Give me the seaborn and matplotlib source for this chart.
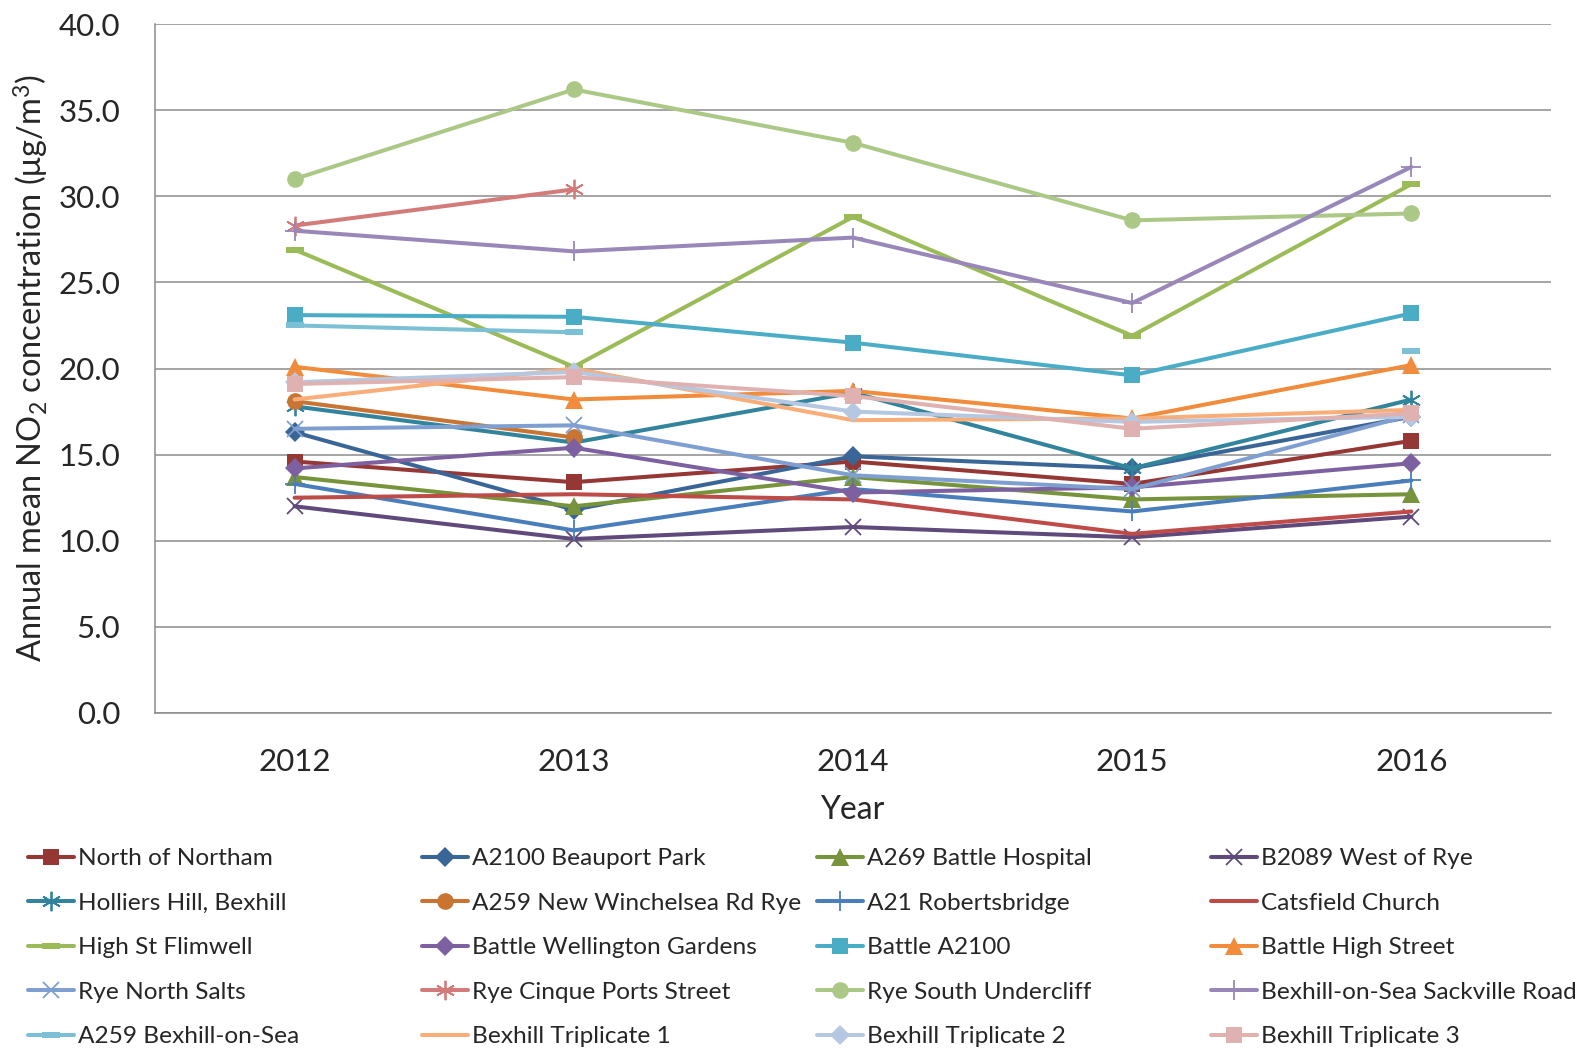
import numpy as np
import pandas as pd
import matplotlib
matplotlib.use("Agg")
import matplotlib.pyplot as plt
from matplotlib.lines import Line2D
from matplotlib.ticker import FormatStrFormatter
import seaborn as sns

# datos (NaN = sin medicion)
years = ["2012", "2013", "2014", "2015", "2016"]
nan = np.nan

north_of_northam = [14.6, 13.4, 14.6, 13.3, 15.8]
a2100_beauport = [16.3, 11.8, 14.9, 14.2, 17.2]
a269_battle_hospital = [13.7, 12.0, 13.7, 12.4, 12.7]
b2089_west_of_rye = [12.0, 10.1, 10.8, 10.2, 11.4]
holliers_hill = [17.8, 15.7, 18.6, 14.2, 18.2]
a259_new_winchelsea = [18.1, 16.0, nan, nan, nan]
a21_robertsbridge = [13.3, 10.6, 13.0, 11.7, 13.5]
catsfield_church = [12.5, 12.7, 12.4, 10.4, 11.7]
high_st_flimwell = [26.9, 20.1, 28.8, 21.9, 30.7]
battle_wellington = [14.2, 15.4, 12.8, 13.1, 14.5]
battle_a2100 = [23.1, 23.0, 21.5, 19.6, 23.2]
battle_high_street = [20.1, 18.2, 18.7, 17.1, 20.2]
rye_north_salts = [16.5, 16.7, 13.8, 13.0, 17.3]
rye_cinque_ports = [28.3, 30.4, nan, nan, nan]
rye_south_undercliff = [31.0, 36.2, 33.1, 28.6, 29.0]
sackville_road = [28.0, 26.8, 27.6, 23.8, 31.7]
a259_bexhill = [22.5, 22.1, nan, nan, 21.0]
bexhill_trip1 = [18.2, 20.0, 17.0, 17.1, 17.6]
bexhill_trip2 = [19.2, 19.8, 17.5, 16.9, 17.2]
bexhill_trip3 = [19.1, 19.5, 18.4, 16.5, 17.4]

names = ["North of Northam", "A2100 Beauport Park", "A269 Battle Hospital", "B2089 West of Rye",
         "Holliers Hill, Bexhill", "A259 New Winchelsea Rd Rye", "A21 Robertsbridge", "Catsfield Church",
         "High St Flimwell", "Battle Wellington Gardens", "Battle A2100", "Battle High Street",
         "Rye North Salts", "Rye Cinque Ports Street", "Rye South Undercliff", "Bexhill-on-Sea Sackville Road",
         "A259 Bexhill-on-Sea", "Bexhill Triplicate 1", "Bexhill Triplicate 2", "Bexhill Triplicate 3"]
values = [north_of_northam, a2100_beauport, a269_battle_hospital, b2089_west_of_rye,
          holliers_hill, a259_new_winchelsea, a21_robertsbridge, catsfield_church,
          high_st_flimwell, battle_wellington, battle_a2100, battle_high_street,
          rye_north_salts, rye_cinque_ports, rye_south_undercliff, sackville_road,
          a259_bexhill, bexhill_trip1, bexhill_trip2, bexhill_trip3]
colors = ["#953735", "#3A6597", "#77933C", "#5F4A7B",
          "#31849B", "#C87533", "#4A7EBB", "#BE4B48",
          "#9BBB59", "#7D60A0", "#4BACC6", "#F08C3C",
          "#7F9FD0", "#D27B7A", "#ACC886", "#9A87BA",
          "#7CC0D5", "#F9AE7A", "#B6C7E1", "#DFB1B1"]

# marcador tipo "guion" de Excel
dash = [(-1, -0.28), (1, -0.28), (1, 0.28), (-1, 0.28), (-1, -0.28)]
markers = ["s", "D", "^", "x", "asterisk", "o", "+", None,
           "dash", "D", "s", "^", "x", "asterisk", "o", "+",
           "dash", None, "D", "s"]

sns.set_style("white")
plt.rcParams["font.family"] = ["Lato", "DejaVu Sans"]
plt.rcParams["mathtext.fontset"] = "custom"
plt.rcParams["mathtext.rm"] = "Lato"
plt.rcParams["mathtext.it"] = "Lato"

def marker_style(m):
    if m is None:
        return dict(marker="None")
    if m == "dash":
        return dict(marker=dash, markersize=13, markeredgewidth=0)
    if m == "x":
        return dict(marker="x", markersize=12, markeredgewidth=1.3)
    if m == "asterisk":
        return dict(marker=(6, 2, 0), markersize=14, markeredgewidth=1.3)
    if m == "+":
        return dict(marker="+", markersize=15, markeredgewidth=1.3)
    if m == "^":
        return dict(marker="^", markersize=13, markeredgewidth=0)
    if m == "D":
        return dict(marker="D", markersize=10, markeredgewidth=0)
    if m == "o":
        return dict(marker="o", markersize=12, markeredgewidth=0)
    return dict(marker="s", markersize=11.5, markeredgewidth=0)

fig = plt.figure(figsize=(15.84, 10.51), dpi=100)
ax = fig.add_axes([155 / 1584, 1 - 713 / 1051, 1396 / 1584, 689 / 1051])

handles = []
for i, (name, vals, col, m) in enumerate(zip(names, values, colors, markers)):
    df = pd.DataFrame({"x": np.arange(len(years)), "y": vals})
    # segmentos continuos para no unir huecos
    df["seg"] = df["y"].isna().cumsum()
    df = df.dropna()
    st = marker_style(m)
    sns.lineplot(data=df, x="x", y="y", units="seg", estimator=None, color=col,
                 linewidth=2.9, ax=ax, zorder=3 + i * 0.01, legend=False,
                 markeredgecolor=col, markerfacecolor=col, **st)
    handles.append(Line2D([0], [0], color=col, linewidth=2.9, markeredgecolor=col,
                          markerfacecolor=col, **st))

ax.set_xlim(-0.5, 4.5)
ax.set_ylim(0, 40)
ax.set_xticks(range(len(years)))
ax.set_xticklabels(years)
ax.set_xticks(np.arange(-0.5, 5, 1), minor=True)
ax.set_yticks(np.arange(0, 41, 5))
ax.yaxis.set_major_formatter(FormatStrFormatter("%.1f"))
ax.yaxis.grid(True, color="#8C8C8C", linewidth=1.1)
ax.set_axisbelow(True)
for s in ["top", "right"]:
    ax.spines[s].set_visible(False)
for s in ["left", "bottom"]:
    ax.spines[s].set_color("#8C8C8C")
    ax.spines[s].set_linewidth(1.1)
ax.tick_params(axis="x", which="major", length=0, pad=25, labelsize=22.5)
ax.tick_params(axis="x", which="minor", length=8, width=1.1, color="#8C8C8C", direction="out")
ax.tick_params(axis="y", length=9, width=1.1, color="#8C8C8C", direction="out", pad=16, labelsize=22.5)
ax.set_xlabel("")
ax.set_ylabel("")

fig.text(31 / 1584, 1 - 368 / 1051, r"Annual mean NO$_2$ concentration (μg/m$^3$)",
         rotation=90, ha="center", va="center", fontsize=23.5)
fig.text(852 / 1584, 1 - 810 / 1051, "Year", ha="center", va="center", fontsize=23)

# leyenda en 4 columnas de ancho fijo, ordenada por filas
col_x = [28, 422, 817, 1211]
for c in range(4):
    idx = [r * 4 + c for r in range(5)]
    fig.legend([handles[k] for k in idx], [names[k] for k in idx],
               loc="upper left", bbox_to_anchor=(col_x[c] / 1584, 1 - 848 / 1051),
               frameon=False, fontsize=17.6, handlelength=1.9, handletextpad=0.15,
               labelspacing=0.96, borderpad=0, borderaxespad=0, numpoints=1)

plt.savefig("out.png", dpi=100)
plt.close()
